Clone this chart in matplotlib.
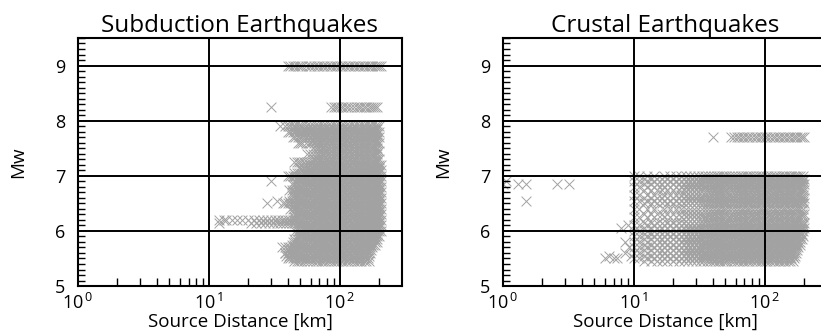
import numpy as np
import matplotlib.pyplot as plt
from matplotlib.ticker import FixedLocator, FixedFormatter, MultipleLocator

plt.rcParams['font.family'] = ['Open Sans', 'DejaVu Sans']
plt.rcParams['mathtext.fontset'] = 'custom'
plt.rcParams['mathtext.rm'] = 'Open Sans'

# station distances [km] (two interleaved networks)
stations_a = [12, 13.5, 15, 16.5, 18, 20, 22, 24, 26, 28, 30, 32, 34, 36, 38, 40, 42, 44, 46,
              48, 50, 52, 55, 58, 61, 64, 67, 70, 73, 76, 80, 84, 88, 92, 96, 100, 105,
              110, 115, 120, 126, 132, 138, 144, 150, 157, 164, 171, 178, 185, 192, 199, 206]
stations_b = [10, 11, 12.7, 14.2, 17, 19, 21, 23, 25, 27, 29, 31, 33, 35, 37, 39, 41, 43,
              45, 47, 49, 51, 53.5, 56.5, 59.5, 62.5, 65.5, 68.5, 71.5, 74.5, 78, 82, 86,
              90, 94, 98, 102, 107, 112, 117, 123, 129, 135, 141, 147, 153, 160, 167, 174,
              181, 188, 195, 202]

# subduction events: magnitude, min and max recorded distance
sub_mw = [9.0, 8.25, 7.9, 7.85, 7.8, 7.75, 7.7, 7.65, 7.6, 7.5, 7.45, 7.4, 7.3, 7.25, 7.2,
          7.15, 7.1, 7.05, 7.0, 6.95, 6.9, 6.85, 6.8, 6.75, 6.7, 6.65, 6.6, 6.55, 6.5,
          6.45, 6.4, 6.35, 6.3, 6.25, 6.2, 6.15, 6.1, 6.05, 6.0, 5.95, 5.9, 5.85, 5.8,
          5.75, 5.7, 5.65, 5.6, 5.55, 5.5, 5.45]
sub_rmin = [44, 85, 37, 45, 40, 50, 44, 60, 48, 60, 70, 55, 62, 45, 55, 48, 52, 44, 40, 46,
            45, 42, 48, 40, 44, 42, 46, 40, 38, 44, 42, 45, 48, 44, 12, 20, 48, 50, 46, 50,
            48, 45, 44, 42, 38, 40, 37, 38, 40, 45]
sub_rmax = [206, 200, 200, 200, 200, 200, 200, 200, 200, 200, 200, 200, 200, 200, 206, 206,
            206, 206, 206, 206, 206, 206, 206, 206, 206, 206, 206, 206, 206, 206, 206, 206,
            206, 206, 206, 206, 206, 206, 206, 200, 200, 196, 192, 188, 184, 180, 176, 172,
            170, 168]
sub_iso_r = [30, 30, 28, 40, 42, 35, 36, 38, 37, 33, 13, 12]
sub_iso_mw = [8.25, 6.9, 6.5, 9.0, 9.0, 7.9, 5.7, 5.6, 6.5, 6.55, 6.2, 6.15]

# crustal events
cru_mw = [7.7, 7.0, 6.95, 6.9, 6.85, 6.8, 6.75, 6.65, 6.6, 6.55, 6.5, 6.4, 6.3, 6.25, 6.15,
          6.1, 6.05, 6.0, 5.95, 5.9, 5.85, 5.8, 5.75, 5.7, 5.65, 5.6, 5.55, 5.5, 5.45]
cru_rmin = [55, 10, 5, 4.6, 12, 10, 11, 10, 10, 4, 5, 10, 10, 10, 11, 9, 10, 8, 10, 10, 11,
            10, 10, 9, 10, 10, 10, 5.5, 10]
cru_rmax = [200, 200, 200, 200, 200, 200, 200, 200, 200, 200, 200, 200, 200, 200, 200, 200,
            200, 200, 198, 195, 192, 188, 185, 182, 178, 175, 172, 170, 168]
cru_iso_r = [1.0, 1.05, 1.3, 1.5, 1.5, 2.6, 3.2, 40, 6.5, 7.5, 8.5, 9.5, 8, 9, 6, 7, 9.2, 8.6]
cru_iso_mw = [6.85, 6.9, 6.85, 6.85, 6.55, 6.85, 6.85, 7.7, 5.55, 5.5, 5.6, 5.55, 6.05, 6.1,
              5.5, 5.5, 5.7, 5.8]


def records(mws, rmins, rmaxs, iso_r, iso_mw):
    r, m = list(iso_r), list(iso_mw)
    for i, (mw, lo, hi) in enumerate(zip(mws, rmins, rmaxs)):
        st = stations_a if i % 2 == 0 else stations_b
        for d in st:
            if lo <= d <= hi:
                r.append(d)
                m.append(mw)
    return r, m


fig = plt.figure(figsize=(8.21, 3.33), dpi=100)
ax1 = fig.add_axes([0.095, 0.141, 0.3946, 0.745])
ax2 = fig.add_axes([0.6127, 0.141, 0.3946, 0.745])

panels = [(ax1, 'Subduction Earthquakes', records(sub_mw, sub_rmin, sub_rmax, sub_iso_r, sub_iso_mw)),
          (ax2, 'Crustal Earthquakes', records(cru_mw, cru_rmin, cru_rmax, cru_iso_r, cru_iso_mw))]

for ax, title, (r, m) in panels:
    ax.scatter(r, m, marker='x', s=50, color='#a2a2a2', linewidths=0.7, zorder=1)
    ax.set_xscale('log')
    ax.set_xlim(1, 300)
    ax.set_ylim(5, 9.5)
    ax.xaxis.set_major_locator(FixedLocator([1, 10, 100]))
    ax.xaxis.set_major_formatter(FixedFormatter([r'$10^{\,0}$', r'$10^{\,1}$', r'$10^{\,2}$']))
    ax.xaxis.set_minor_locator(FixedLocator([2, 3, 4, 5, 6, 7, 8, 9, 20, 30, 40, 50, 60, 70, 80, 90, 200]))
    ax.xaxis.set_minor_formatter(FixedFormatter([]))
    ax.yaxis.set_major_locator(FixedLocator([5, 6, 7, 8, 9]))
    ax.yaxis.set_minor_locator(MultipleLocator(0.1))
    ax.grid(True, which='major', color='black', linewidth=1.4, zorder=2)
    ax.set_axisbelow(False)
    ax.tick_params(which='major', direction='in', length=0, labelsize=13)
    ax.tick_params(axis='y', which='major', pad=9)
    ax.tick_params(axis='x', which='major', pad=5)
    ax.tick_params(which='minor', direction='in', length=5, width=1, color='black')
    ax.tick_params(axis='x', which='minor', length=6)
    for sp in ax.spines.values():
        sp.set_linewidth(1.5)
        sp.set_zorder(3)
    ax.set_title(title, fontsize=17.5, pad=3)
    ax.set_xlabel('Source Distance [km]', fontsize=13.5, labelpad=0)
    ax.set_ylabel('Mw', fontsize=13.5, labelpad=20)

fig.savefig('out.png', dpi=100)
